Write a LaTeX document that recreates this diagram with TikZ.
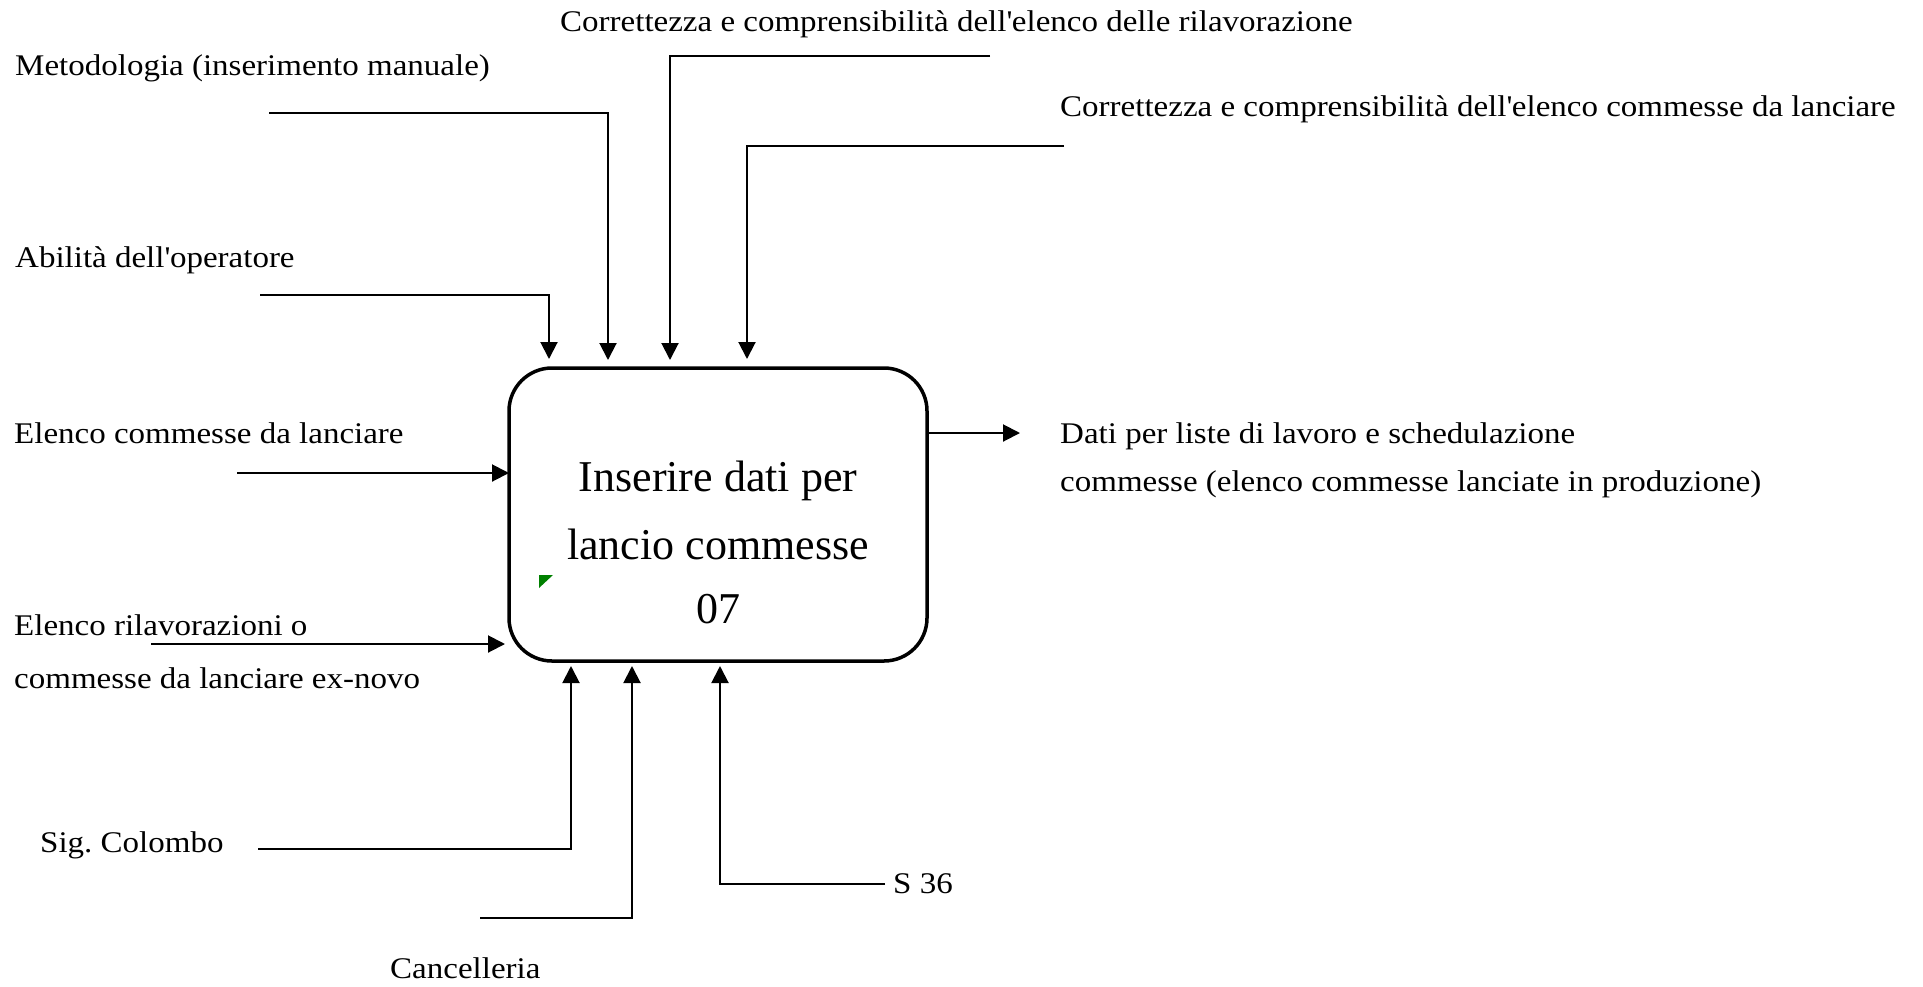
\documentclass[tikz,border=0pt]{standalone}
\usepackage{fontspec}
\setmainfont{Liberation Serif}
\newfontfamily\lblfont{Liberation Serif}[FakeStretch=1.1]
\usetikzlibrary{arrows.meta}
\definecolor{idefgreen}{RGB}{0,128,0}
\tikzset{
  lbl/.style={anchor=base west, inner sep=0pt, font=\lblfont\fontsize{30}{36}\selectfont},
  conn/.style={line width=2pt, -{Triangle[length=17pt,width=17pt]}},
  proc/.style={draw, line width=3.5pt, rounded corners=43pt, minimum width=418pt, minimum height=293pt, inner sep=0pt},
  ptext/.style={anchor=base, inner sep=0pt, font=\fontsize{44}{66}\selectfont}
}
\begin{document}
\begin{tikzpicture}[x=1pt,y=-1pt]
\useasboundingbox (0,0) rectangle (1923,986);

% process box
\node[proc] (box) at (718,514.5) {};
\node[ptext] (boxtext) at (718,491) {\begin{tabular}[t]{@{}c@{}}Inserire dati per\\[2pt]lancio commesse\\[-2pt]07\end{tabular}};
\fill[idefgreen] (539,575) -- (553,575) -- (539,588) -- cycle;

% labels
\node[lbl] (metod) at (15,75) {Metodologia (inserimento manuale)};
\node[lbl] (abil) at (15,267) {Abilità dell{\textquotesingle}operatore};
\node[lbl] (corr1) at (560,31) {Correttezza e comprensibilità dell{\textquotesingle}elenco delle rilavorazione};
\node[lbl] (corr2) at (1060,116) {Correttezza e comprensibilità dell{\textquotesingle}elenco commesse da lanciare};
\node[lbl] (elenco) at (14,443) {Elenco commesse da lanciare};
\node[lbl, font=\lblfont\fontsize{30}{53}\selectfont] (rilav) at (14,635) {\begin{tabular}[t]{@{}l@{}}Elenco rilavorazioni o\\commesse da lanciare ex-novo\end{tabular}};
\node[lbl, font=\lblfont\fontsize{30}{48}\selectfont] (dati) at (1060,443) {\begin{tabular}[t]{@{}l@{}}Dati per liste di lavoro e schedulazione\\commesse (elenco commesse lanciate in produzione)\end{tabular}};
\node[lbl] (colombo) at (40,852) {Sig.\ Colombo};
\node[lbl] (cancel) at (390,978) {Cancelleria};
\node[lbl] (s36) at (893,893) {S 36};

% connector points
\coordinate (metodS) at (269,113);
\coordinate (metodC) at (608,113);
\coordinate (metodE) at (608,360);
\coordinate (abilS) at (260,295);
\coordinate (abilC) at (549,295);
\coordinate (abilE) at (549,359);
\coordinate (corr1S) at (990,56);
\coordinate (corr1C) at (670,56);
\coordinate (corr1E) at (670,360);
\coordinate (corr2S) at (1064,146);
\coordinate (corr2C) at (747,146);
\coordinate (corr2E) at (747,359);
\coordinate (elencoS) at (237,473);
\coordinate (elencoE) at (509,473);
\coordinate (rilavS) at (151,644);
\coordinate (rilavE) at (505,644);
\coordinate (outS) at (928,433);
\coordinate (outE) at (1020,433);
\coordinate (colS) at (258,849);
\coordinate (colC) at (571,849);
\coordinate (colE) at (571,666);
\coordinate (canS) at (480,918);
\coordinate (canC) at (632,918);
\coordinate (canE) at (632,666);
\coordinate (sS) at (885,884);
\coordinate (sC) at (720,884);
\coordinate (sE) at (720,666);

% connectors
\draw[conn] (metodS) -- (metodC) -- (metodE);
\draw[conn] (abilS) -- (abilC) -- (abilE);
\draw[conn] (corr1S) -- (corr1C) -- (corr1E);
\draw[conn] (corr2S) -- (corr2C) -- (corr2E);
\draw[conn] (elencoS) -- (elencoE);
\draw[conn] (rilavS) -- (rilavE);
\draw[conn] (outS) -- (outE);
\draw[conn] (colS) -- (colC) -- (colE);
\draw[conn] (canS) -- (canC) -- (canE);
\draw[conn] (sS) -- (sC) -- (sE);
\end{tikzpicture}
\end{document}
